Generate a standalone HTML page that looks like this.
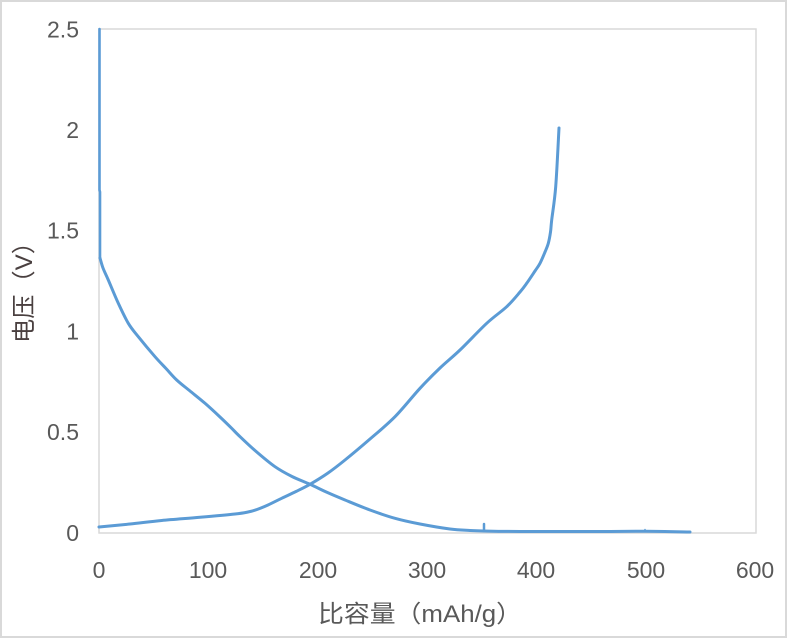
<!DOCTYPE html>
<html>
<head>
<meta charset="utf-8">
<style>
html,body{margin:0;padding:0;background:#fff;}
svg{display:block;}
text{font-family:"Liberation Sans","Noto Sans CJK SC",sans-serif;fill:#595959;}
</style>
</head>
<body>
<svg id="chart" width="788" height="639" viewBox="0 0 788 639" xmlns="http://www.w3.org/2000/svg">
  <rect x="0" y="0" width="788" height="639" fill="#fff"/>
  <rect x="1" y="1" width="785" height="636" fill="none" stroke="#d9d9d9" stroke-width="2"/>
  <rect x="99" y="29" width="657" height="504" fill="none" stroke="#d9d9d9" stroke-width="1.5"/>

  <!-- Y tick labels -->
  <g font-size="23" text-anchor="end">
    <text x="79" y="541">0</text>
    <text x="79" y="440">0.5</text>
    <text x="79" y="339.5">1</text>
    <text x="79" y="238.5">1.5</text>
    <text x="79" y="138">2</text>
    <text x="79" y="37.5">2.5</text>
  </g>
  <!-- X tick labels -->
  <g font-size="23" text-anchor="middle">
    <text x="99" y="578">0</text>
    <text x="208" y="578">100</text>
    <text x="318" y="578">200</text>
    <text x="427" y="578">300</text>
    <text x="536" y="578">400</text>
    <text x="646" y="578">500</text>
    <text x="755" y="578">600</text>
  </g>

  <!-- Axis titles -->
  <text x="318" y="622" font-size="24" textLength="204" lengthAdjust="spacingAndGlyphs">比容量（mAh/g）</text>
  <text transform="translate(32,343) rotate(-90)" x="0" y="0" font-size="24" textLength="113" lengthAdjust="spacingAndGlyphs" style="fill:#4a4040">电压（V）</text>

  <!-- Series -->
  <g fill="none" stroke="#5b9bd5" stroke-width="3" stroke-linejoin="round" stroke-linecap="round">
    <path d="M99.5,29 L99.5,190 L100,192 L100,258" stroke-width="2.6"/>
    <polyline class="smooth" points="100,258 103,268 108.3,280 118.3,303.3 128.3,323.3 138.3,336.7 155,356.7 166,368.5 176.7,380 190,391 205,403.3 220,417 231.7,428.3 238.3,435 255,450.5 275,466.7 292,476.5 310,484.3 328,492.8 345,500 370,510 395,518.3 420,524 450,529 470,530.5 484,531 520,531.5 600,531.5 645,531.3 690,532"/>
    <path d="M484,531 L484,524" stroke-width="2.5"/>
    <path d="M645,531.5 L645,529.5" stroke-width="1.5"/>
    <polyline class="smooth" points="99,527 130,524 161.7,520.5 200,517.3 235,514 248,512 257,509.5 268,505 281.7,498.3 296,491.5 310,484.3 328,473 345,460 370,439 395,416.7 420,388.3 440,368 460,350 486.7,323.3 506.7,306.7 520,292 526.7,283.3 535,271 540,263.3 545,252 548.3,243.3 550.5,232 551.7,220 555.7,186.7 559,128"/>
  </g>
</svg>
<script>
(function(){
  var ns="http://www.w3.org/2000/svg";
  var lines=document.querySelectorAll("polyline.smooth");
  for(var i=0;i<lines.length;i++){
    var pl=lines[i];
    var raw=pl.getAttribute("points").trim().split(/\s+/).map(function(s){var a=s.split(",");return [parseFloat(a[0]),parseFloat(a[1])];});
    var d="M"+raw[0][0]+","+raw[0][1];
    for(var k=0;k<raw.length-1;k++){
      var p0=raw[k>0?k-1:k],p1=raw[k],p2=raw[k+1],p3=raw[k+2<raw.length?k+2:k+1];
      var t=1/6;
      var c1x=p1[0]+(p2[0]-p0[0])*t,c1y=p1[1]+(p2[1]-p0[1])*t;
      var c2x=p2[0]-(p3[0]-p1[0])*t,c2y=p2[1]-(p3[1]-p1[1])*t;
      d+=" C"+c1x.toFixed(2)+","+c1y.toFixed(2)+" "+c2x.toFixed(2)+","+c2y.toFixed(2)+" "+p2[0]+","+p2[1];
    }
    var path=document.createElementNS(ns,"path");
    path.setAttribute("d",d);
    pl.parentNode.replaceChild(path,pl);
  }
})();
</script>
</body>
</html>
